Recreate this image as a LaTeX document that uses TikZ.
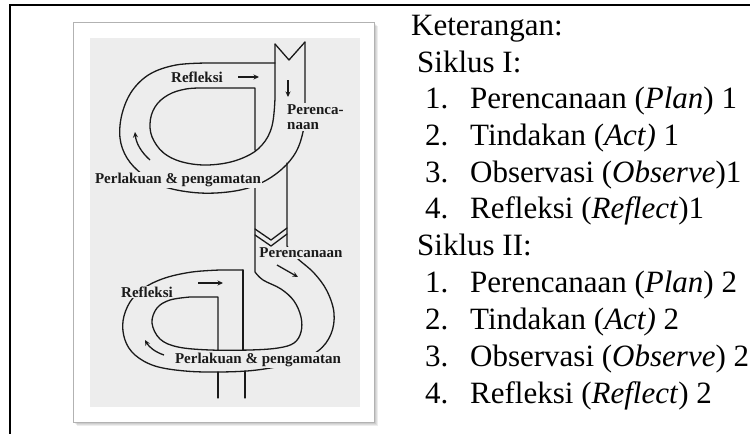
\documentclass[tikz,border=0pt]{standalone}
\usepackage{fontspec}
\setmainfont{Liberation Serif}
\usetikzlibrary{arrows.meta}
\definecolor{photobg}{HTML}{EDEDED}
\definecolor{ink}{HTML}{1A1A1A}
\tikzset{
  band/.style={draw=ink, line width=1.3pt, line join=round, line cap=round},
  lbl/.style={font=\bfseries\fontsize{15}{15.5}\selectfont, fill=photobg, inner sep=1pt, text=ink},
  legend/.style={font=\fontsize{31}{37}\selectfont, anchor=base west, inner sep=0pt},
  tip/.style={-{Stealth[length=5.5pt,width=5pt]}, draw=ink, line width=1.3pt},
}
\begin{document}
\begin{tikzpicture}[x=1pt,y=-1pt]
\useasboundingbox (0,0) rectangle (750,434);

% table frame
\draw[line width=1.4pt] (750,5) -- (10,5) -- (10,434);

% photo card with soft shadow
\foreach \i in {1,...,4}{
  \fill[black, opacity=0.07] (73+\i,22+\i) rectangle (374+\i,422+\i);
}
\fill[white] (73,22) rectangle (374,422);
\draw[black!30, line width=0.6pt] (73,22) rectangle (374,422);
\fill[photobg] (90,38) rectangle (360,407);

% ---- cycle 1 ----
% top notch of the entering band
\draw[band] (275,44) -- (289,60) -- (305,42);
% inner edge: entering band, bottom, left, top, then down
\draw[band] (275,44) -- (275,98)
  plot[smooth,tension=0.65] coordinates {(275,98) (272,126) (262,145) (245,157) (220,164) (192,164) (168,156) (154,141) (150,124) (155,107) (168,95) (186,89) (205,88)}
  -- (255,88) -- (255,150);
% outer edge
\draw[band] (275,63) -- (207,63)
  plot[smooth,tension=0.6] coordinates {(207,63) (176,65) (150,74) (132,91) (122,114) (120,138) (127,158) (142,174) (165,187) (200,193) (235,191) (261,183) (282,169) (296,152) (303,132) (305,112)}
  -- (305,42);

% ---- link between the cycles ----
\draw[band] (255,235) -- (271,246) -- (287,234);
\draw[band] (255,229) -- (271,240) -- (287,228);

% ---- cycle 2 ----
% inner edge
\draw[band] (255,185) -- (255,272)
  plot[smooth,tension=0.6] coordinates {(255,272) (263,280) (281,289) (294,301) (301,317) (301,332) (294,343) (278,348) (250,350) (210,350) (178,347) (160,339) (152,323) (157,308) (170,300) (190,297)}
  -- (218,297) -- (218,350);
\draw[band] (243,270) -- (243,350);
% outer edge
\draw[band] (287,163) -- (287,246)
  plot[smooth,tension=0.6] coordinates {(287,246) (297,258) (314,273) (327,291) (334,313) (331,334) (318,351) (292,363) (257,370) (220,372) (185,371) (155,366) (135,355) (125,340) (123,321) (130,302) (144,288) (165,278) (192,272) (220,270)}
  -- (243,270);
% band leaving downwards
\draw[band] (218,372) -- (218,398);
\draw[band] (245,371) -- (245,398);

% direction arrows
\draw[tip] (238,77) -- (259,77);
\draw[tip] (288,80) -- (288,97);
\draw[tip] (150,160) .. controls (141,152) and (136,143) .. (135,132);
\draw[tip] (198,283) -- (223,283);
\draw[tip] (277,265) -- (298,277);
\draw[tip] (164,355) .. controls (155,352) and (149,347) .. (145,340);

% stage labels
\node[lbl] (refl1) at (197,77) {Refleksi};
\node[lbl, align=left, anchor=north west] (renc1) at (286,103) {Perenca-\\naan};
\node[lbl] (perl1) at (178,180) {Perlakuan \& pengamatan};
\node[lbl] (renc2) at (301,253) {Perencanaan};
\node[lbl] (refl2) at (147,292) {Refleksi};
\node[lbl] (perl2) at (258,360) {Perlakuan \& pengamatan};

% legend
\node[legend] (ket) at (411,35) {Keterangan:};
\node[legend] (s1) at (417,72) {Siklus I:};
\node[legend] (n11) at (425,108) {1.};
\node[legend] (t11) at (470,108) {Perencanaan (\textit{Plan}) 1};
\node[legend] (n12) at (425,145) {2.};
\node[legend] (t12) at (470,145) {Tindakan (\textit{Act)} 1};
\node[legend] (n13) at (425,182) {3.};
\node[legend] (t13) at (470,182) {Observasi (\textit{Observe})1};
\node[legend] (n14) at (425,218) {4.};
\node[legend] (t14) at (470,218) {Refleksi (\textit{Reflect})1};
\node[legend] (s2) at (417,255) {Siklus II:};
\node[legend] (n21) at (425,292) {1.};
\node[legend] (t21) at (470,292) {Perencanaan (\textit{Plan}) 2};
\node[legend] (n22) at (425,329) {2.};
\node[legend] (t22) at (470,329) {Tindakan (\textit{Act)} 2};
\node[legend] (n23) at (425,366) {3.};
\node[legend] (t23) at (470,366) {Observasi (\textit{Observe}) 2};
\node[legend] (n24) at (425,403) {4.};
\node[legend] (t24) at (470,403) {Refleksi (\textit{Reflect}) 2};
\end{tikzpicture}
\end{document}
